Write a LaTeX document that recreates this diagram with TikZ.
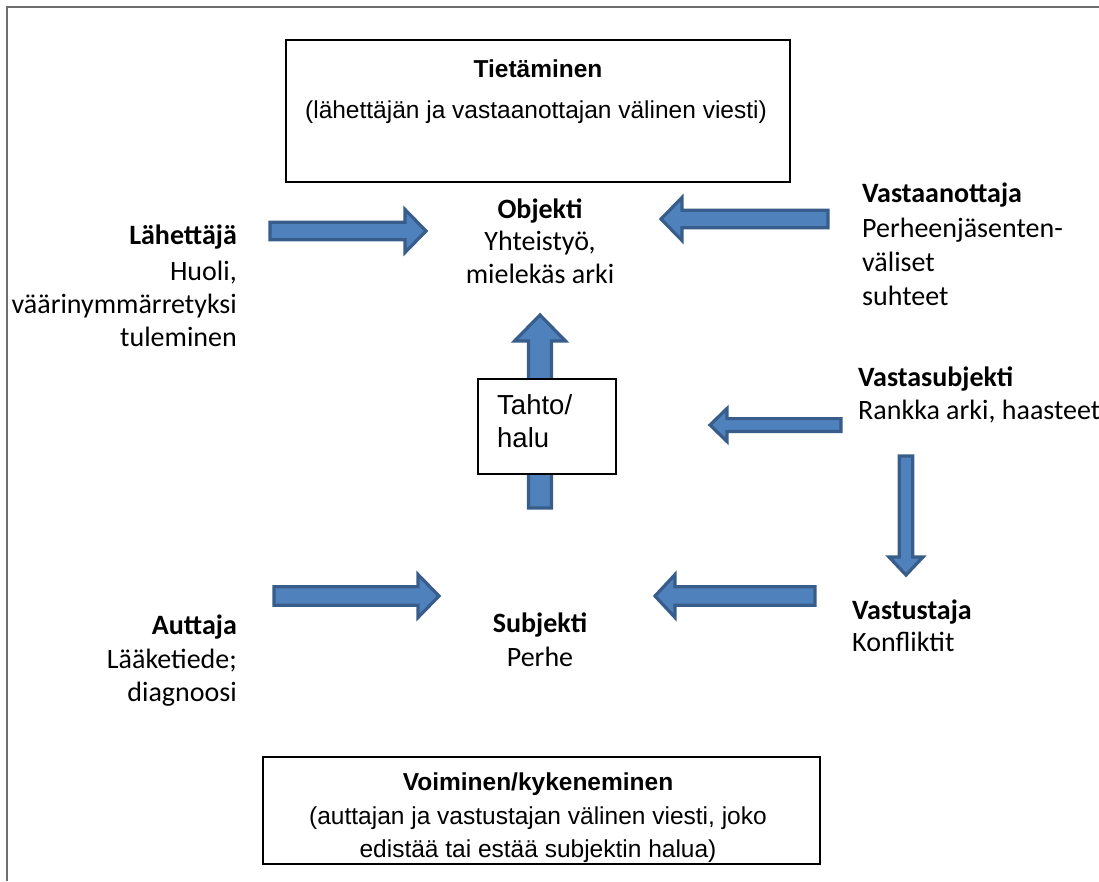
\documentclass[tikz,border=0pt]{standalone}
\usepackage{fontspec}
\setmainfont{Carlito}
\newfontfamily\arialfont{Liberation Sans}
\definecolor{arrowfill}{HTML}{4F81BD}
\definecolor{arrowline}{HTML}{385D8A}
\definecolor{framegray}{HTML}{6E6E6E}

% horizontal block arrow: tail x, tip x, y, shaft half, head half, head length (signed)
\newcommand{\hblockarrow}[6]{%
  \draw[blockarrow] (#1,#3-#4) -- (#2-#6,#3-#4) -- (#2-#6,#3-#5) -- (#2,#3)
    -- (#2-#6,#3+#5) -- (#2-#6,#3+#4) -- (#1,#3+#4) -- cycle;}
% vertical block arrow: tail y, tip y, x, shaft half, head half, head length (signed)
\newcommand{\vblockarrow}[6]{%
  \draw[blockarrow] (#3-#4,#1) -- (#3-#4,#2-#6) -- (#3-#5,#2-#6) -- (#3,#2)
    -- (#3+#5,#2-#6) -- (#3+#4,#2-#6) -- (#3+#4,#1) -- cycle;}

\begin{document}
\begin{tikzpicture}[x=1pt,y=-1pt,
  blockarrow/.style={fill=arrowfill,draw=arrowline,line width=3.2pt,line join=miter},
  lbl/.style={inner sep=0pt,font=\fontsize{28}{33.5}\selectfont},
  boxtext/.style={inner sep=0pt,font=\arialfont\fontsize{24.5}{29}\selectfont},
  willtext/.style={inner sep=0pt,anchor=base west,font=\arialfont\fontsize{27.5}{33}\selectfont},
  frame box/.style={draw=black,line width=1.3pt,fill=white}]
\useasboundingbox (0,0) rectangle (1099,881);

% outer frame (only top and left edges are inside the page)
\draw[framegray,line width=2.4pt] (7,881) -- (7,7) -- (1099,7);

% Tietäminen box
\draw[frame box] (286,40) rectangle (790,182);
\node[boxtext,anchor=base] (tiet1) at (538,77) {\textbf{Tietäminen}};
\node[boxtext,anchor=base] (tiet2) at (536,118) {(lähettäjän ja vastaanottajan välinen viesti)};

% Objekti
\node[lbl,anchor=base] (obj1) at (540,218) {\textbf{Objekti}};
\node[lbl,anchor=base] (obj2) at (540,250) {Yhteistyö,};
\node[lbl,anchor=base] (obj3) at (540,283) {mielekäs arki};

% Lähettäjä
\node[lbl,anchor=base east] (lah1) at (237,244) {\textbf{Lähettäjä}};
\node[lbl,anchor=base east] (lah2) at (237,280) {Huoli,};
\node[lbl,anchor=base east] (lah3) at (237,313) {väärinymmärretyksi};
\node[lbl,anchor=base east] (lah4) at (237,346) {tuleminen};

% Vastaanottaja
\node[lbl,anchor=base west] (vas1) at (862,202) {\textbf{Vastaanottaja}};
\node[lbl,anchor=base west] (vas2) at (862,237) {Perheenjäsenten-};
\node[lbl,anchor=base west] (vas3) at (862,271) {väliset};
\node[lbl,anchor=base west] (vas4) at (862,305) {suhteet};

% Vastasubjekti
\node[lbl,anchor=base west] (vsu1) at (858,386) {\textbf{Vastasubjekti}};
\node[lbl,anchor=base west] (vsu2) at (858,419) {Rankka arki, haasteet};

% Vastustaja
\node[lbl,anchor=base west] (vst1) at (852,619) {\textbf{Vastustaja}};
\node[lbl,anchor=base west] (vst2) at (852,651) {Konfliktit};

% Subjekti
\node[lbl,anchor=base] (sub1) at (540,632) {\textbf{Subjekti}};
\node[lbl,anchor=base] (sub2) at (540,666) {Perhe};

% Auttaja
\node[lbl,anchor=base east] (aut1) at (237,634) {\textbf{Auttaja}};
\node[lbl,anchor=base east] (aut2) at (237,668) {Lääketiede;};
\node[lbl,anchor=base east] (aut3) at (237,701) {diagnoosi};

% block arrows
\hblockarrow{270}{426}{231}{8.8}{21.5}{21}
\hblockarrow{828}{661}{219}{8.8}{21.5}{-21}
\hblockarrow{841}{710}{425}{6.4}{16.5}{-17}
\vblockarrow{456}{575}{906}{6.8}{17}{18}
\hblockarrow{815}{655}{596}{9.2}{21.5}{-20}
\hblockarrow{274}{439}{596}{9.2}{21.5}{21}
\vblockarrow{508}{315}{540}{11.5}{25.5}{-26}

% Tahto/halu box, drawn over the vertical arrow
\draw[frame box] (478,379) rectangle (616,474);
\node[willtext] (tah1) at (497,414) {Tahto/};
\node[willtext] (tah2) at (497,447) {halu};

% Voiminen box
\draw[frame box] (263,757) rectangle (820,864);
\node[boxtext,anchor=base] (voi1) at (538,790) {\textbf{Voiminen/kykeneminen}};
\node[boxtext,anchor=base] (voi2) at (538,824) {(auttajan ja vastustajan välinen viesti, joko};
\node[boxtext,anchor=base] (voi3) at (538,857) {edistää tai estää subjektin halua)};
\end{tikzpicture}
\end{document}
